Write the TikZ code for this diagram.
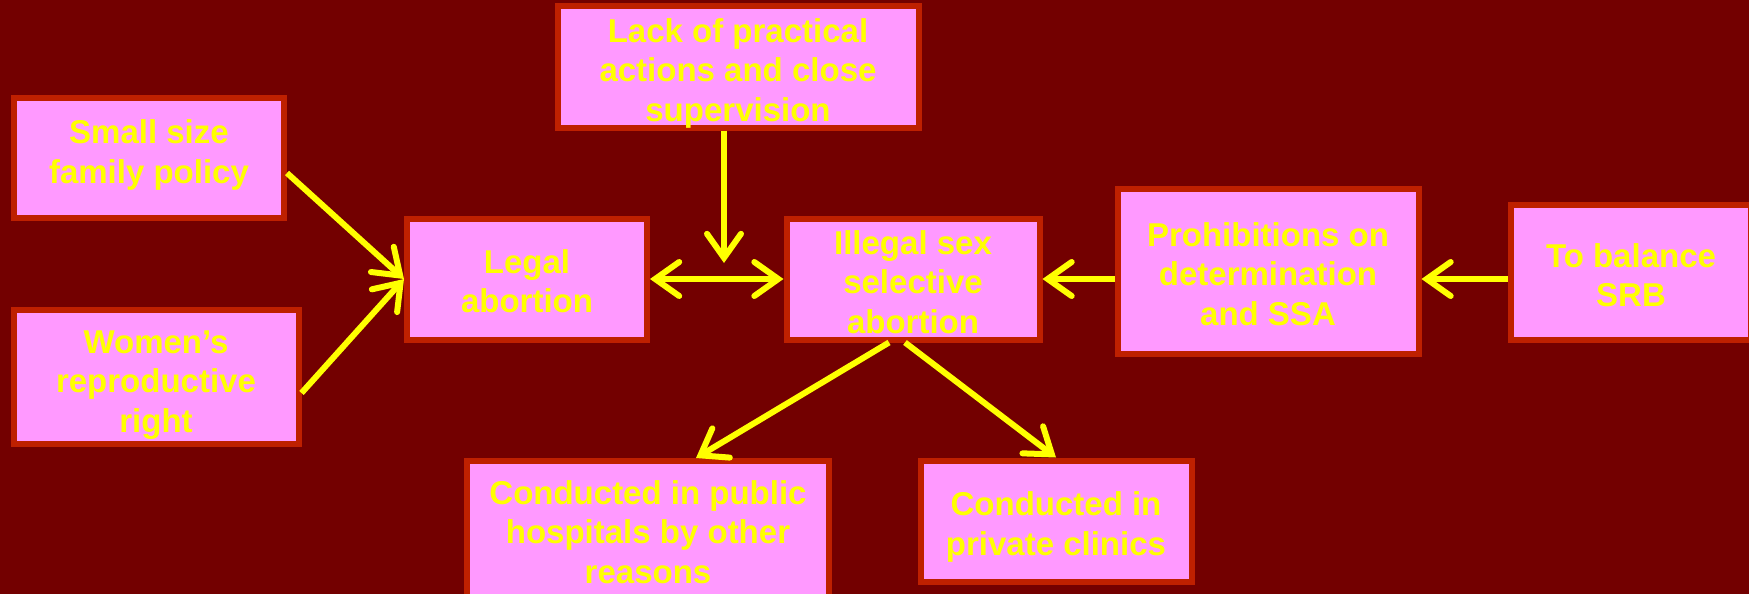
\documentclass[tikz,border=0pt]{standalone}
\usepackage{fontspec}
\setmainfont{Liberation Sans}
\usepackage{tikz}
\usetikzlibrary{arrows.meta}
\usetikzlibrary{calc}

\definecolor{bgred}{RGB}{115,0,0}
\definecolor{boxred}{RGB}{190,32,0}
\definecolor{boxpink}{RGB}{255,153,255}
\definecolor{txtyellow}{RGB}{255,255,0}

\tikzset{
    causebox/.style={draw=boxred, line width=6pt, fill=boxpink, inner sep=0pt},
    boxtext/.style={text=txtyellow, font=\fontsize{33}{39.5}\selectfont\bfseries,
        align=center, inner sep=0pt},
    link/.style={draw=txtyellow, line width=6pt,
        -{Straight Barb[length=24pt,width=34pt,line cap=round]}},
    twolink/.style={draw=txtyellow, line width=6pt,
        {Straight Barb[length=24pt,width=34pt,line cap=round]}-{Straight Barb[length=24pt,width=34pt,line cap=round]}}
}

\begin{document}
\begin{tikzpicture}[x=1pt, y=-1pt]
        % Page and background
        \clip (0,0) rectangle (1749,594);
        \fill[bgred] (0,0) rectangle (1749,594);

        % Draw the boxes (text set as centre labels)
        \node[causebox, minimum width=270pt, minimum height=120pt,
            label={[boxtext, yshift=3pt]center:Small size\\family policy}] (small) at (149,158) {};
        \node[causebox, minimum width=285pt, minimum height=134pt,
            label={[boxtext, yshift=-8pt]center:Women's\\reproductive\\right}] (women) at (156,377) {};
        \node[causebox, minimum width=240pt, minimum height=121pt,
            label={[boxtext, yshift=-2pt]center:Legal\\abortion}] (legal) at (527,279) {};
        \node[causebox, minimum width=361pt, minimum height=121pt,
            label={[boxtext, yshift=-6pt]center:Lack of practical\\actions and close\\supervision}] (lack) at (738,67) {};
        \node[causebox, minimum width=253pt, minimum height=121pt,
            label={[boxtext, yshift=-3pt]center:Illegal sex\\selective\\abortion}] (illegal) at (913,279) {};
        \node[causebox, minimum width=301pt, minimum height=165pt,
            label={[boxtext, yshift=-3pt]center:Prohibitions on\\determination\\and SSA}] (prohib) at (1268,271) {};
        \node[causebox, minimum width=240pt, minimum height=135pt,
            label={[boxtext, yshift=-3pt]center:To balance\\SRB}] (balance) at (1631,272) {};
        \node[causebox, minimum width=362pt, minimum height=140pt,
            label={[boxtext, yshift=-1pt]center:Conducted in public\\hospitals by other\\reasons}] (public) at (648,531) {};
        \node[causebox, minimum width=271pt, minimum height=121pt,
            label={[boxtext, yshift=-6pt]center:Conducted in\\private clinics}] (private) at (1056,521) {};

        % Free end of the arrow from above
        \coordinate (meet) at (724,263);

        % Draw the arrows
        \draw[link] ([yshift=-15pt]small.east) -- (legal.west);
        \draw[link] ([yshift=-16pt]women.east) -- (legal.west);
        \draw[link] ([xshift=-14pt]lack.south) -- (meet);
        \draw[twolink] (legal.east) -- (illegal.west);
        \draw[link] (prohib.west |- illegal.east) -- (illegal.east);
        \draw[link] (balance.west |- illegal.east) -- (prohib.east |- illegal.east);
        \draw[link] ([xshift=-24pt]illegal.south) -- ([xshift=48pt]public.north);
        \draw[link] ([xshift=-8pt]illegal.south) -- (private.north);
    \end{tikzpicture}
\end{document}
